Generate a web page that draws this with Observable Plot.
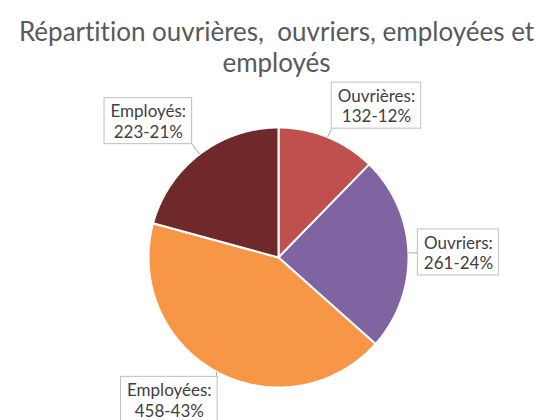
<!DOCTYPE html>
<html>
<head>
<meta charset="utf-8">
<script src="https://cdn.jsdelivr.net/npm/d3@7"></script>
<script src="https://cdn.jsdelivr.net/npm/@observablehq/plot@0.6"></script>
<style>
  html, body { margin: 0; padding: 0; background: #fff; }
  svg text { font-variant-ligatures: none; }
</style>
</head>
<body>
<div id="chart"></div>
<script>
// ---- data ----
const labels = ["Ouvrières", "Ouvriers", "Employées", "Employés"];
const values = [132, 261, 458, 223];
const colors = ["#C0504D", "#8064A2", "#F79646", "#6F292B"];
const titleLines = ["Répartition ouvrières, \u00a0ouvriers, employées et", "employés"];

// ---- layout (not data) ----
const W = 544, H = 420;
const cx = 278, cy = 257, R = 130;            // pie centre and radius in pixels
const labelAngleNudge = [10.7, 0.4, 9, -6.3]; // degrees
const labelRadius = [1.39, 1.385, 1.38, 1.45]; // in radii
const labelFontSize = 17;
const boxH = 46;

const total = d3.sum(values);
const data = labels.map((label, i) => ({label, value: values[i]}));
const arcs = d3.pie().sort(null).value(d => d.value)(data);

const pt = (a, r) => ({x: r * Math.sin(a), y: r * Math.cos(a)});

// slice outlines: centre -> arc -> centre
const slicePts = [];
arcs.forEach(a => {
  const n = Math.max(2, Math.ceil((a.endAngle - a.startAngle) / (Math.PI / 180)));
  slicePts.push({label: a.data.label, x: 0, y: 0});
  for (let k = 0; k <= n; ++k) {
    const ang = a.startAngle + (a.endAngle - a.startAngle) * k / n;
    slicePts.push({label: a.data.label, ...pt(ang, R)});
  }
  slicePts.push({label: a.data.label, x: 0, y: 0});
});

// label boxes
const ctx = document.createElement("canvas").getContext("2d");
ctx.font = labelFontSize + "px Lato";
const labelData = arcs.map((a, i) => {
  const mid = (a.startAngle + a.endAngle) / 2;
  const ang = mid + labelAngleNudge[i] * Math.PI / 180;
  const c = pt(ang, R * labelRadius[i]);
  const pct = Math.round(a.data.value / total * 100);
  const line1 = a.data.label + ":";
  const line2 = a.data.value + "-" + pct + "%";
  const w = Math.max(ctx.measureText(line1).width, ctx.measureText(line2).width) + 12;
  const box = {x1: c.x - w / 2, x2: c.x + w / 2, y1: c.y - boxH / 2, y2: c.y + boxH / 2};
  const edge = pt(mid, R);
  const tx = Math.min(Math.max(edge.x, box.x1), box.x2);
  const ty = Math.min(Math.max(edge.y, box.y1), box.y2);
  return {label: a.data.label, text: line1 + "\n" + line2, x: c.x, y: c.y, ...box,
          ex: edge.x, ey: edge.y, tx, ty};
});

const chart = Plot.plot({
  width: W,
  height: H,
  margin: 0,
  x: {domain: [-cx, W - cx], range: [0, W], axis: null},
  y: {domain: [cy - H, cy], range: [H, 0], axis: null},
  color: {domain: labels, range: colors},
  style: {background: "#fff", overflow: "visible"},
  marks: [
    Plot.line(slicePts, {x: "x", y: "y", z: "label", fill: "label", stroke: "white", strokeWidth: 2, strokeLinejoin: "round", curve: "linear"}),
    Plot.link(labelData, {x1: "ex", y1: "ey", x2: "tx", y2: "ty", stroke: "#a6a6a6", strokeWidth: 1}),
    Plot.rect(labelData, {x1: "x1", x2: "x2", y1: "y1", y2: "y2", fill: "white", stroke: "#bfbfbf", strokeWidth: 1}),
    Plot.text(labelData, {x: "x", y: "y", text: "text", fill: "#404040", fontSize: labelFontSize, fontFamily: "Lato", lineHeight: 1.2, textAnchor: "middle"}),
    Plot.text([titleLines.join("\n")], {frameAnchor: "top", text: d => d, lineAnchor: "top", dx: 4, dy: 19, fontSize: 26, fontFamily: "Lato", fill: "#595959", lineHeight: 1.19})
  ]
});
document.getElementById("chart").append(chart);
</script>
</body>
</html>
